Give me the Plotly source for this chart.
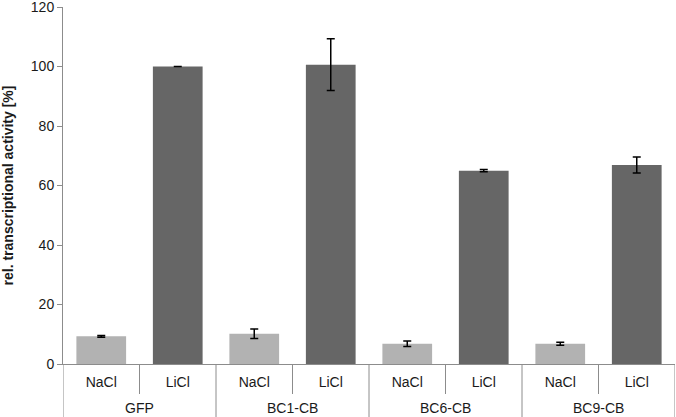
import plotly.graph_objects as go

groups = ["GFP", "GFP", "BC1-CB", "BC1-CB", "BC6-CB", "BC6-CB", "BC9-CB", "BC9-CB"]
treatments = ["NaCl", "LiCl", "NaCl", "LiCl", "NaCl", "LiCl", "NaCl", "LiCl"]
values = [9.3, 100.0, 10.2, 100.6, 6.8, 65.0, 6.8, 66.9]
errors = [0.3, None, 1.6, 8.7, 0.9, 0.4, 0.5, 2.7]
y_ticks = [0, 20, 40, 60, 80, 100, 120]

bar_colors = ["#b2b2b2" if t == "NaCl" else "#666666" for t in treatments]
x_pos = list(range(len(treatments)))

# group boundaries / centers derived from the category lists
group_names = []
group_members = {}
for i, g in enumerate(groups):
    if g not in group_members:
        group_names.append(g)
        group_members[g] = []
    group_members[g].append(i)
group_edges = sorted({group_members[g][0] - 0.5 for g in group_names} |
                     {group_members[g][-1] + 0.5 for g in group_names})
inner_edges = [i + 0.5 for i in x_pos[:-1] if (i + 0.5) not in group_edges]

axis_grey = "#8c8c8c"
text_col = "#1a1a1a"
font_family = "Liberation Sans, Arial, sans-serif"

fig = go.Figure(go.Bar(
    x=x_pos,
    y=values,
    marker=dict(color=bar_colors, line=dict(width=0)),
    error_y=dict(type="data", array=errors, visible=True, color="#000000",
                 thickness=1.5, width=4),
    cliponaxis=False,
))

shapes = [dict(type="line", xref="x", yref="paper", x0=e, x1=e, y0=0, y1=-0.2,
               line=dict(color=axis_grey, width=1)) for e in group_edges]
annotations = [dict(text=g, xref="x", yref="paper",
                    x=sum(group_members[g]) / len(group_members[g]), y=0,
                    yanchor="middle", xanchor="center", yshift=-44, showarrow=False,
                    font=dict(size=14, color=text_col, family=font_family))
               for g in group_names]

fig.update_layout(
    width=676, height=417,
    margin=dict(l=63, r=1, t=7, b=53),
    paper_bgcolor="white", plot_bgcolor="white",
    bargap=0.35,
    showlegend=False,
    font=dict(family=font_family, size=14, color=text_col),
    shapes=shapes,
    annotations=annotations,
)
fig.update_xaxes(
    range=[-0.5, len(x_pos) - 0.5], automargin=False,
    tickmode="array", tickvals=x_pos, ticktext=treatments,
    showline=True, linecolor=axis_grey, linewidth=1,
    ticks="", ticklabelstandoff=5,
    minor=dict(tickmode="array", tickvals=inner_edges, ticks="outside",
               ticklen=29, tickcolor=axis_grey, tickwidth=1, showgrid=False),
    tickfont=dict(size=14, color=text_col),
    showgrid=False, zeroline=False,
)
fig.update_yaxes(
    range=[0, 120], tickvals=y_ticks, automargin=False,
    ticklabeloverflow="allow",
    showline=True, linecolor=axis_grey, linewidth=1,
    ticks="outside", ticklen=5, tickcolor=axis_grey,
    showgrid=False, zeroline=False,
    tickfont=dict(size=14, color=text_col),
    title=dict(text="<b>rel. transcriptional activity [%]</b>", font=dict(size=14), standoff=14),
)
fig.write_html("out.html", config={"displayModeBar": False},
               post_script="document.body.style.margin='0';")
